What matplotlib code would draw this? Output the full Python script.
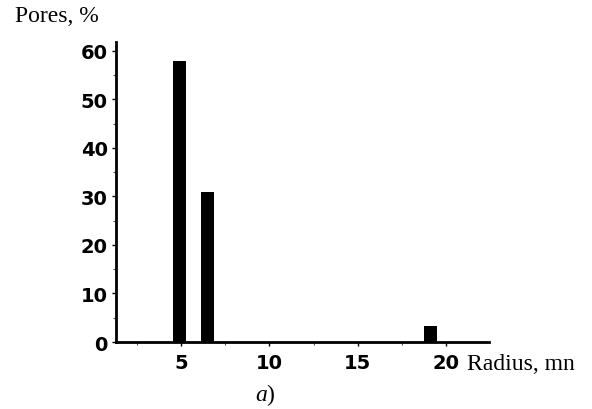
import matplotlib
matplotlib.use("Agg")
import matplotlib.pyplot as plt
from matplotlib.ticker import MultipleLocator

# Pore size distribution
radius = [4.9, 6.5, 19.1]
pores_pct = [58, 31, 3.2]
x_ticks = [5, 10, 15, 20]
y_ticks = [0, 10, 20, 30, 40, 50, 60]

plt.rcParams["mathtext.fontset"] = "custom"
plt.rcParams["mathtext.rm"] = "Liberation Serif"
plt.rcParams["mathtext.it"] = "Liberation Serif:italic"

fig = plt.figure(figsize=(5.92, 4.10), dpi=100)
ax = fig.add_axes([0.196, 0.1634, 0.630, 0.7324])

ax.bar(radius, pores_pct, width=0.75, color="black", edgecolor="black", linewidth=0)

ax.set_xlim(1.32, 22.43)
ax.set_ylim(0, 61.9)
ax.set_xticks(x_ticks)
ax.set_yticks(y_ticks)
ax.xaxis.set_minor_locator(MultipleLocator(2.5))
ax.yaxis.set_minor_locator(MultipleLocator(5))

for s in ("top", "right"):
    ax.spines[s].set_visible(False)
for s in ("left", "bottom"):
    ax.spines[s].set_linewidth(2)

ax.tick_params(which="major", direction="out", length=3, width=1)
ax.tick_params(axis="x", which="major", pad=5)
ax.tick_params(axis="y", which="major", pad=3)
ax.tick_params(which="minor", direction="out", length=2, width=0.8, color="#555555")
for lab in ax.get_xticklabels() + ax.get_yticklabels():
    lab.set_fontfamily("DejaVu Sans")
    lab.set_fontweight("bold")
    lab.set_fontsize(14)

serif = "Liberation Serif"
fig.text(15 / 592, 1 - 17 / 410, "Pores, %", fontfamily=serif, fontsize=17,
         ha="left", va="center")
fig.text(467 / 592, 1 - 365 / 410, "Radius, mn", fontfamily=serif, fontsize=17,
         ha="left", va="center")
fig.text(265 / 592, 1 - 395 / 410, r"$\mathit{a}\mathrm{)}$", fontsize=17,
         ha="center", va="center")

fig.savefig("out.png", dpi=100)
